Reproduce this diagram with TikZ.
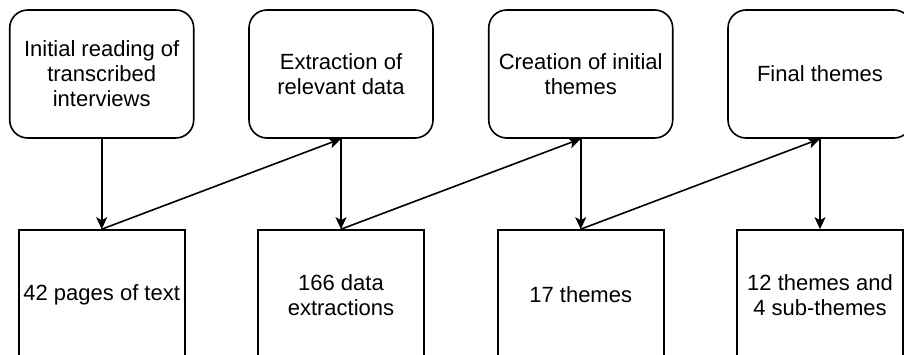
\documentclass[tikz,border=0pt]{standalone}
\usepackage{fontspec}
\setmainfont{Liberation Sans}
\usetikzlibrary{arrows.meta}

\tikzset{
  stage/.style={draw, line width=1.6pt, rounded corners=18pt, minimum width=184pt,
    minimum height=128pt, align=center, inner sep=2pt},
  result/.style={draw, line width=1.6pt, minimum width=166pt, minimum height=130pt,
    align=center, inner sep=2pt},
  flow/.style={line width=1.6pt, -{Stealth[length=12pt, width=11pt, inset=3pt]}}
}

\begin{document}
\begin{tikzpicture}[x=1pt, y=-1pt, font=\fontsize{22pt}{25pt}\selectfont]
      \clip (0, 0) rectangle (904, 355);
      \fill[white] (0, 0) rectangle (904, 355);
      \node[stage] (read) at (101.7, 74) {Initial reading of\\transcribed\\interviews};
      \node[stage] (extract) at (341, 74) {Extraction of\\relevant data};
      \node[stage] (create) at (580.7, 74) {Creation of initial\\themes};
      \node[stage] (final) at (820, 74) {Final themes};
      \node[result] (pages) at (101.7, 295) {42 pages of text};
      \node[result] (extractions) at (341, 295) {166 data\\extractions};
      \node[result] (themes) at (580.7, 295) {17 themes};
      \node[result] (subthemes) at (820, 295) {12 themes and\\4 sub-themes};
      \draw[flow] (read) -- (pages);
      \draw[flow] (extract) -- (extractions);
      \draw[flow] (create) -- (themes);
      \draw[flow] (final) -- (subthemes);
      \draw[flow] (pages.north) -- (extract.south);
      \draw[flow] (extractions.north) -- (create.south);
      \draw[flow] (themes.north) -- (final.south);
    \end{tikzpicture}
\end{document}
